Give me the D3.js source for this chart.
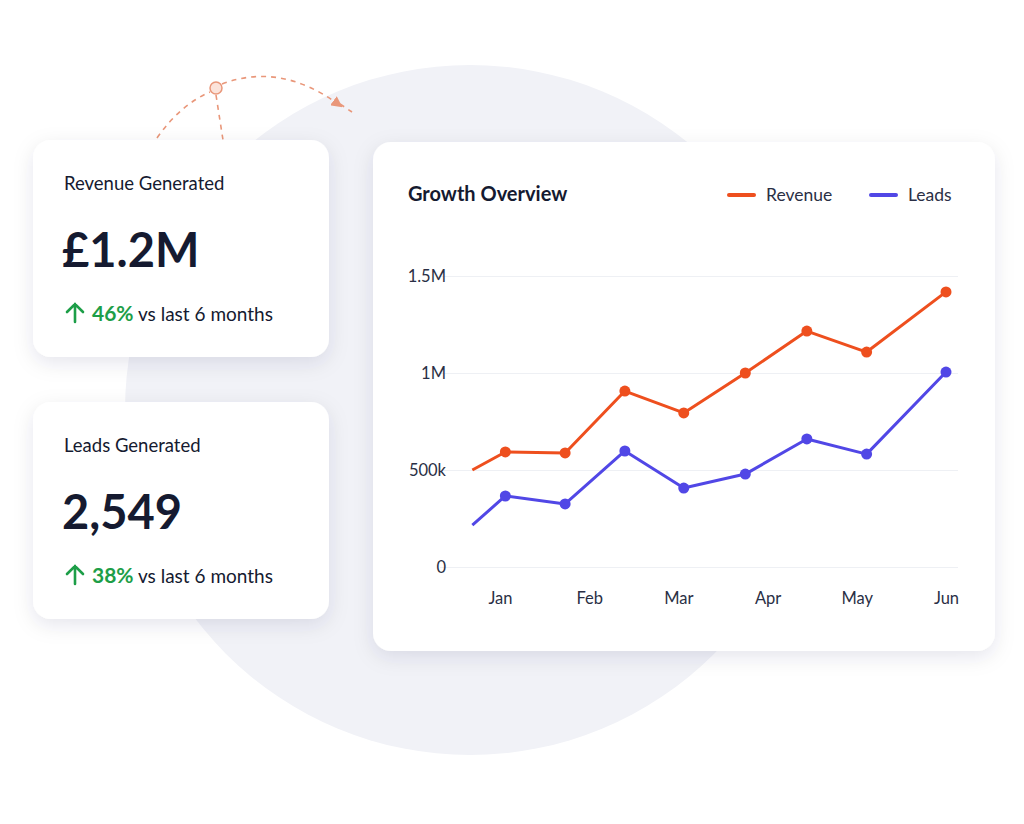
<!DOCTYPE html>
<html><head><meta charset="utf-8">
<script src="https://cdn.jsdelivr.net/npm/d3@7"></script>
<style>body{margin:0;background:#fff;}svg{display:block;font-family:Lato,"Open Sans",sans-serif;}</style>
</head><body><div class="visHolder"></div>
<script>
const w = 1024, h = 824;
// month position (0 = Jan tick, 5 = Jun tick) for each point
const xPos = [-0.31, 0.06, 0.73, 1.40, 2.06, 2.75, 3.44, 4.11, 5.0];
const revenue = [500000, 593000, 588000, 907000, 794000, 1000000, 1216000, 1108000, 1418000];
const leads = [216000, 366000, 325000, 598000, 407000, 479000, 660000, 582000, 1005000];
const months = ['Jan', 'Feb', 'Mar', 'Apr', 'May', 'Jun'];
const yTicks = [0, 500000, 1000000, 1500000];
const yLabels = ['0', '500k', '1M', '1.5M'];
const cards = [
  {title: 'Revenue Generated', value: '£1.2M', pct: '46%'},
  {title: 'Leads Generated', value: '2,549', pct: '38%'}
];
const ink = '#151a30', orange = '#ee4f1e', blue = '#5147e6', green = '#1d9e48';

const svg = d3.select('.visHolder').append('svg').attr('width', w).attr('height', h);
const defs = svg.append('defs');
const f = defs.append('filter').attr('id', 'sh').attr('x', '-20%').attr('y', '-20%').attr('width', '140%').attr('height', '150%');
f.append('feDropShadow').attr('dx', 0).attr('dy', 6).attr('stdDeviation', 10).attr('flood-color', '#1c2450').attr('flood-opacity', 0.10);
defs.append('marker').attr('id', 'arr').attr('viewBox', '0 0 10 10').attr('refX', 5).attr('refY', 5)
  .attr('markerWidth', 7).attr('markerHeight', 7).attr('orient', 'auto')
  .append('path').attr('d', 'M0,0 L10,5 L0,10 Z').attr('fill', '#e9977a');

svg.append('circle').attr('cx', 470).attr('cy', 410).attr('r', 345).attr('fill', '#f1f2f7');

// dashed arcs
const dash = {stroke: '#e9977a', 'stroke-width': 1.6, 'stroke-dasharray': '5,5', fill: 'none'};
const addPath = (d) => { const p = svg.append('path').attr('d', d); Object.entries(dash).forEach(([k, v]) => p.attr(k, v)); return p; };
addPath('M157,138 Q180,105 210,92');
addPath('M216,95 L223,140');
addPath('M222,84 Q280,62 338,104').attr('marker-end', 'url(#arr)');
addPath('M340,104 L352,112');
svg.append('circle').attr('cx', 216).attr('cy', 88).attr('r', 6).attr('fill', '#fbe3da').attr('stroke', '#e9977a').attr('stroke-width', 1.5);

// KPI cards
cards.forEach((c, i) => {
  const g = svg.append('g').attr('transform', `translate(33,${140 + i * 262})`);
  g.append('rect').attr('width', 296).attr('height', 217).attr('rx', 18).attr('fill', '#fff').attr('filter', 'url(#sh)');
  g.append('text').attr('x', 31).attr('y', 50).attr('font-size', 18.5).attr('fill', ink).text(c.title);
  g.append('text').attr('x', 29).attr('y', 127).attr('font-size', 47).attr('font-weight', 700).attr('fill', ink).text(c.value);
  g.append('path').attr('d', 'M42,182 L42,164 M34,172 L42,164 L50,172').attr('stroke', green).attr('stroke-width', 2.6).attr('fill', 'none').attr('stroke-linecap', 'round');
  const t = g.append('text').attr('x', 59).attr('y', 181).attr('font-size', 19).attr('fill', ink);
  t.append('tspan').attr('fill', green).attr('font-weight', 700).attr('font-size', 21).text(c.pct);
  t.append('tspan').text(' vs last 6 months');
});

// chart card
const cg = svg.append('g');
cg.append('rect').attr('x', 373).attr('y', 142).attr('width', 622).attr('height', 509).attr('rx', 18).attr('fill', '#fff').attr('filter', 'url(#sh)');
cg.append('text').attr('x', 408).attr('y', 201).attr('font-size', 20).attr('font-weight', 700).attr('fill', ink).text('Growth Overview');
[['Revenue', orange, 729], ['Leads', blue, 871]].forEach(([n, col, x]) => {
  cg.append('line').attr('x1', x).attr('x2', x + 25).attr('y1', 195).attr('y2', 195).attr('stroke', col).attr('stroke-width', 4).attr('stroke-linecap', 'round');
  cg.append('text').attr('x', x + 37).attr('y', 201).attr('font-size', 17.5).attr('fill', '#2a2f45').text(n);
});

const xScale = d3.scaleLinear().domain([0, 5]).range([500, 946]);
const yScale = d3.scaleLinear().domain([0, 1500000]).range([567, 276]);

const yAxis = d3.axisLeft(yScale).tickValues(yTicks).tickFormat((d, i) => yLabels[i]).tickSize(-(958 - 440)).tickPadding(12);
const ya = svg.append('g').attr('transform', 'translate(458,0)').call(yAxis);
ya.select('.domain').remove();
ya.selectAll('line').attr('stroke', '#eef0f4').attr('transform', 'translate(-18,0)');
ya.selectAll('text').attr('font-size', 16.5).attr('fill', '#2a2f45').attr('font-family', 'Lato,sans-serif');

const xAxis = d3.axisBottom(xScale).tickValues(d3.range(6)).tickFormat(i => months[i]).tickSize(0).tickPadding(25);
const xa = svg.append('g').attr('transform', 'translate(0,567)').call(xAxis);
xa.select('.domain').remove();
xa.selectAll('text').attr('font-size', 16.5).attr('fill', '#2a2f45').attr('font-family', 'Lato,sans-serif');

[[revenue, orange], [leads, blue]].forEach(([vals, col]) => {
  const pts = vals.map((v, i) => [xScale(xPos[i]), yScale(v)]);
  svg.append('path').attr('d', d3.line()(pts)).attr('fill', 'none').attr('stroke', col).attr('stroke-width', 3).attr('stroke-linejoin', 'round');
  svg.selectAll(null).data(pts.slice(1)).join('circle')
    .attr('cx', d => d[0]).attr('cy', d => d[1]).attr('r', 5.5).attr('fill', col);
});
</script></body></html>
